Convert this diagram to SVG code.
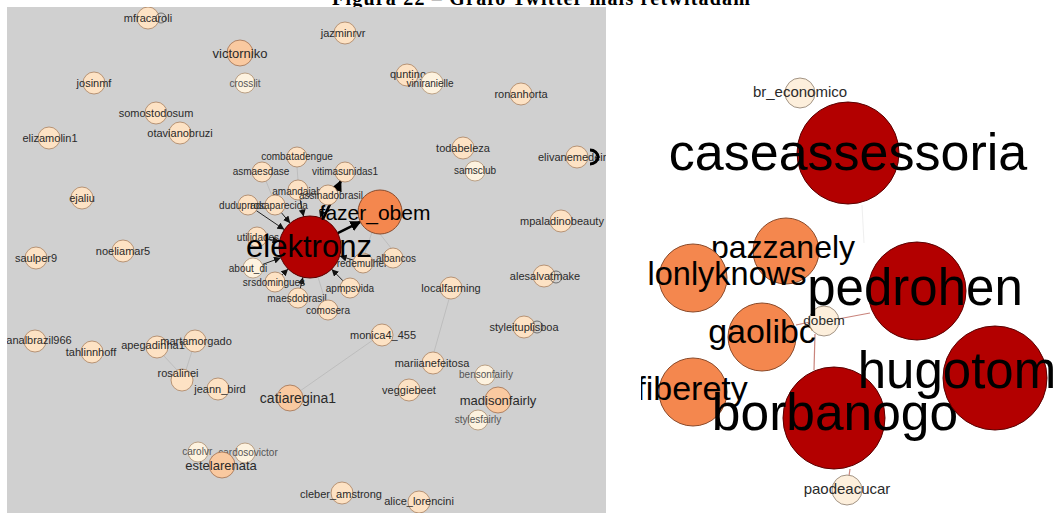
<svg xmlns="http://www.w3.org/2000/svg" width="1058" height="513" viewBox="0 0 1058 513">
<style>
.lbl{font-family:"Liberation Sans",Arial,sans-serif;fill:#2a2a2a;text-anchor:middle}
.s10{font-size:10px}
.s11{font-size:11px}
.s13{font-size:13px}
.g10{font-size:10px;fill:#555}
.n0{fill:#fdf2df;stroke:#b09070;stroke-width:0.8}
.n1{fill:#fde2c4;stroke:#a88060;stroke-width:0.8}
.n2{fill:#f9c9a0;stroke:#a07050;stroke-width:0.8}
.red{fill:#b30000;stroke:#5a0000;stroke-width:1}
.org{fill:#f4874e;stroke:#8a4a2a;stroke-width:1}
.rcr{fill:#fdefdc;stroke:#8a7a6a;stroke-width:0.8}
.loop{fill:none;stroke:#555;stroke-width:0.8}
.ar{stroke:#222;stroke-width:1;fill:none}
.ark{stroke:#000;stroke-width:2.6;fill:none}
.fe{stroke:#b4b4b4;stroke-width:0.7;fill:none}
.re{stroke:#c9847c;stroke-width:1.2;fill:none}
.big{font-family:"Liberation Sans",Arial,sans-serif;fill:#000;text-anchor:middle}
</style>
<defs>
<marker id="ah" viewBox="0 0 10 10" refX="10" refY="5" markerWidth="7" markerHeight="7" markerUnits="userSpaceOnUse" orient="auto"><path d="M0,0 L10,5 L0,10 z" fill="#111"/></marker>
<marker id="ahk" viewBox="0 0 10 10" refX="9" refY="5" markerWidth="11" markerHeight="11" markerUnits="userSpaceOnUse" orient="auto"><path d="M0,0 L10,5 L0,10 z" fill="#000"/></marker>
<clipPath id="clipL"><rect x="7" y="7" width="599" height="506"/></clipPath>
<clipPath id="clipR"><rect x="641" y="0" width="417" height="513"/></clipPath>
</defs>
<rect x="0" y="0" width="1058" height="513" fill="#ffffff"/>
<text x="332" y="5" font-family="Liberation Serif,Times New Roman,serif" font-weight="bold" font-size="20" textLength="418" fill="#000">Figura 22 – Grafo Twitter mais retwitadam</text>
<rect x="7" y="7" width="599" height="506" fill="#d0d0d0"/>

<g id="left-panel" clip-path="url(#clipL)">
<g id="connectors-left">
<line class="fe" x1="297" y1="167" x2="298" y2="180"/>
<line class="fe" x1="266" y1="181" x2="272" y2="196"/>
<line class="fe" x1="380" y1="234" x2="391" y2="248"/>
<line class="fe" x1="372" y1="232" x2="365" y2="253"/>
<line class="fe" x1="449" y1="299" x2="434" y2="352"/>
<line class="fe" x1="373" y1="340" x2="300" y2="391"/>
<line class="fe" x1="164" y1="356" x2="177" y2="370"/>
<line class="fe" x1="192" y1="351" x2="186" y2="370"/>
<line class="fe" x1="325" y1="300" x2="318" y2="277"/>
<line class="ar" x1="256.3" y1="210.6" x2="284.3" y2="229.6" marker-end="url(#ah)"/>
<line class="ar" x1="281.4" y1="212.7" x2="290.2" y2="223.2" marker-end="url(#ah)"/>
<line class="ar" x1="300.1" y1="199.8" x2="303.6" y2="216.6" marker-end="url(#ah)"/>
<line class="ar" x1="324.7" y1="204.5" x2="320.1" y2="217.7" marker-end="url(#ah)"/>
<line class="ar" x1="266.8" y1="238.9" x2="279.5" y2="241.2" marker-end="url(#ah)"/>
<line class="ar" x1="262.4" y1="264.5" x2="280.9" y2="257.7" marker-end="url(#ah)"/>
<line class="ar" x1="282.1" y1="274.9" x2="288.1" y2="268.9" marker-end="url(#ah)"/>
<line class="ar" x1="300.3" y1="288.3" x2="302.9" y2="277.2" marker-end="url(#ah)"/>
<line class="ar" x1="343.0" y1="280.8" x2="331.6" y2="269.2" marker-end="url(#ah)"/>
<line class="ar" x1="353.4" y1="260.1" x2="339.7" y2="256.0" marker-end="url(#ah)"/>
<line class="ark" x1="323.1" y1="218.9" x2="340.8" y2="181.1" marker-end="url(#ahk)"/>
<line class="ark" x1="337.7" y1="233.1" x2="360.3" y2="221.8" marker-end="url(#ahk)"/>
</g>

<g id="n-mfracaroli"><circle class="n1" cx="148" cy="18" r="11"/><circle class="loop" cx="161" cy="18" r="5"/><text class="lbl s11" x="148" y="22">mfracaroli</text></g>
<g id="n-victorniko"><circle class="n2" cx="240" cy="53" r="13"/><text class="lbl s13" x="240" y="58">victorniko</text></g>
<g id="n-crosslit"><circle class="n0" cx="245" cy="83" r="10"/><text class="lbl g10" x="245" y="87">crosslit</text></g>
<g id="n-josinmf"><circle class="n1" cx="94" cy="83" r="11"/><text class="lbl s11" x="94" y="87">josinmf</text></g>
<g id="n-jazminrvr"><circle class="n1" cx="345" cy="33" r="11"/><text class="lbl s11" x="343" y="37">jazminrvr</text></g>
<g id="n-quntino"><circle class="n1" cx="407" cy="75" r="11"/><text class="lbl s11" x="408" y="78">quntino</text></g>
<g id="n-viniranielle"><circle class="n0" cx="432" cy="83" r="11"/><text class="lbl s10" x="430" y="87">viniranielle</text></g>
<g id="n-ronanhorta"><circle class="n1" cx="521" cy="94" r="11"/><text class="lbl s11" x="521" y="98">ronanhorta</text></g>
<g id="n-somostodosum"><circle class="n1" cx="156" cy="113" r="11"/><text class="lbl s11" x="156" y="117">somostodosum</text></g>
<g id="n-otavianobruzi"><circle class="n1" cx="180" cy="133" r="11"/><text class="lbl s11" x="180" y="137">otavianobruzi</text></g>
<g id="n-elizamolin1"><circle class="n1" cx="49" cy="138" r="11"/><text class="lbl s11" x="50" y="142">elizamolin1</text></g>
<g id="n-todabeleza"><circle class="n1" cx="463" cy="148" r="11"/><text class="lbl s11" x="463" y="152">todabeleza</text></g>
<g id="n-elivanemedeiros"><circle class="n1" cx="577" cy="157" r="11"/><text class="lbl s11" x="578" y="161">elivanemedeiros</text><path d="M590,150 A8,7 0 0 1 590,164" fill="none" stroke="#000" stroke-width="3"/></g>
<g id="n-samsclub"><circle class="n0" cx="475" cy="171" r="10"/><text class="lbl s10" x="475" y="174">samsclub</text></g>
<g id="n-combatadengue"><circle class="n1" cx="297" cy="157" r="10"/><text class="lbl s10" x="297" y="160">combatadengue</text></g>
<g id="n-asmaesdase"><circle class="n1" cx="262" cy="172" r="10"/><text class="lbl s10" x="261" y="175">asmaesdase</text></g>
<g id="n-vitimasunidas1"><circle class="n1" cx="345" cy="172" r="10"/><text class="lbl s10" x="345" y="175">vitimasunidas1</text></g>
<g id="n-amandajab"><circle class="n1" cx="298" cy="190" r="10"/><text class="lbl s10" x="297" y="195">amandajab</text></g>
<g id="n-assinadobrasil"><circle class="n1" cx="328" cy="195" r="10"/><text class="lbl s10" x="331" y="199">assinadobrasil</text></g>
<g id="n-duduprado"><circle class="n1" cx="248" cy="205" r="10"/><text class="lbl s10" x="243" y="209">duduprado</text></g>
<g id="n-rosaparecida"><circle class="n1" cx="275" cy="205" r="10"/><text class="lbl s10" x="279" y="209">rosaparecida</text></g>
<g id="n-utilidades"><circle class="n1" cx="257" cy="237" r="10"/><text class="lbl s10" x="258" y="241">utilidades</text></g>
<g id="n-about_di"><circle class="n0" cx="253" cy="268" r="10"/><text class="lbl s10" x="248" y="272">about_di</text></g>
<g id="n-srsdomingues"><circle class="n1" cx="275" cy="282" r="10"/><text class="lbl s10" x="274" y="286">srsdomingues</text></g>
<g id="n-maesdobrasil"><circle class="n1" cx="298" cy="298" r="10"/><text class="lbl s10" x="297" y="302">maesdobrasil</text></g>
<g id="n-comosera"><circle class="n1" cx="328" cy="310" r="10"/><text class="lbl s10" x="328" y="314">comosera</text></g>
<g id="n-apmpsvida"><circle class="n1" cx="350" cy="288" r="10"/><text class="lbl s10" x="350" y="292">apmpsvida</text></g>
<g id="n-redemulher"><circle class="n1" cx="363" cy="263" r="10"/><text class="lbl s10" x="362" y="267">redemulher</text></g>
<g id="n-albancos"><circle class="n1" cx="393" cy="258" r="10"/><text class="lbl s10" x="396" y="262">albancos</text></g>
<g id="n-ejaliu"><circle class="n1" cx="82" cy="198" r="11"/><text class="lbl s11" x="82" y="202">ejaliu</text></g>
<g id="n-noeliamar5"><circle class="n1" cx="123" cy="251" r="11"/><text class="lbl s11" x="123" y="255">noeliamar5</text></g>
<g id="n-saulper9"><circle class="n1" cx="36" cy="258" r="11"/><text class="lbl s11" x="36" y="262">saulper9</text></g>
<g id="n-mpaladinobeauty"><circle class="n1" cx="561" cy="221" r="11"/><text class="lbl s11" x="562" y="225">mpaladinobeauty</text></g>
<g id="n-alesalvatmake"><circle class="n1" cx="544" cy="276" r="11"/><circle class="loop" cx="556" cy="277" r="6"/><text class="lbl s11" x="545" y="280">alesalvatmake</text></g>
<g id="n-localfarming"><circle class="n1" cx="451" cy="288" r="11"/><text class="lbl s11" x="451" y="292">localfarming</text></g>
<g id="n-styleituplisboa"><circle class="n1" cx="524" cy="327" r="11"/><circle class="loop" cx="537" cy="327" r="6"/><text class="lbl s11" x="524" y="331">styleituplisboa</text></g>
<g id="n-analbrazil966"><circle class="n1" cx="35" cy="341" r="11"/><text class="lbl s11" x="39" y="344">analbrazil966</text></g>
<g id="n-tahlinnhoff"><circle class="n1" cx="92" cy="352" r="11"/><text class="lbl s11" x="91" y="356">tahlinnhoff</text></g>
<g id="n-apegadinha14"><circle class="n1" cx="157" cy="347" r="11"/><text class="lbl s11" x="156" y="349">apegadinha14</text></g>
<g id="n-martamorgado"><circle class="n1" cx="195" cy="341" r="11"/><text class="lbl s11" x="196" y="345">martamorgado</text></g>
<g id="n-rosalinei"><circle class="n1" cx="182" cy="380" r="11"/><text class="lbl s11" x="178" y="377">rosalinei</text></g>
<g id="n-jeann_bird"><circle class="n1" cx="218" cy="389" r="11"/><text class="lbl s11" x="220" y="393">jeann_bird</text></g>
<g id="n-catiaregina1"><circle class="n2" cx="290" cy="398" r="13"/><text class="lbl" font-size="14" x="298" y="403">catiaregina1</text></g>
<g id="n-monica4_455"><circle class="n1" cx="382" cy="335" r="11"/><text class="lbl s11" x="383" y="339">monica4_455</text></g>
<g id="n-mariianefeitosa"><circle class="n1" cx="433" cy="363" r="11"/><text class="lbl s11" x="432" y="367">mariianefeitosa</text></g>
<g id="n-veggiebeet"><circle class="n1" cx="409" cy="390" r="11"/><text class="lbl s11" x="409" y="394">veggiebeet</text></g>
<g id="n-bensonfairly"><circle class="n0" cx="485" cy="375" r="10"/><text class="lbl g10" x="486" y="378">bensonfairly</text></g>
<g id="n-madisonfairly"><circle class="n2" cx="498" cy="400" r="13"/><text class="lbl s13" x="498" y="405">madisonfairly</text></g>
<g id="n-stylesfairly"><circle class="n0" cx="478" cy="420" r="10"/><text class="lbl g10" x="478" y="423">stylesfairly</text></g>
<g id="n-carolvr_"><circle class="n0" cx="198" cy="452" r="10"/><text class="lbl g10" x="200" y="455">carolvr_</text></g>
<g id="n-cardosovictor"><circle class="n0" cx="245" cy="453" r="10"/><text class="lbl g10" x="248" y="456">cardosovictor</text></g>
<g id="n-estelarenata"><circle class="n2" cx="222" cy="465" r="13"/><text class="lbl s13" x="221" y="470">estelarenata</text></g>
<g id="n-cleber_amstrong"><circle class="n1" cx="342" cy="493" r="11"/><text class="lbl s11" x="341" y="498">cleber_amstrong</text></g>
<g id="n-alice_lorencini"><circle class="n1" cx="419" cy="502" r="11"/><text class="lbl s11" x="419" y="505">alice_lorencini</text></g>
<g id="n-elektronz"><circle class="red" cx="310" cy="247" r="31"/><text class="big" font-size="31" x="309" y="257">elektronz</text></g>
<g id="n-fazer_obem"><circle class="org" cx="380" cy="212" r="22"/><text class="big" font-size="21" x="375" y="220">fazer_obem</text></g>
</g>

<g id="right-panel" clip-path="url(#clipR)">
<g id="connectors-right">
<line x1="862" y1="205" x2="864" y2="243" stroke="#efefef" stroke-width="1"/>
<line class="re" x1="838" y1="319" x2="870" y2="313"/>
<line class="re" x1="810" y1="322" x2="796" y2="325"/>
<line class="re" x1="815" y1="334" x2="814" y2="370"/>
<line class="re" x1="850" y1="469" x2="849" y2="476"/>
</g>
<g id="n-br_economico"><circle class="rcr" cx="800" cy="93" r="15"/><text class="lbl" font-size="15" x="800" y="97">br_economico</text></g>
<g id="n-caseassessoria"><circle class="red" cx="848" cy="153" r="51"/><text class="big" font-size="52" x="848" y="170">caseassessoria</text></g>
<g id="n-pazzanely"><circle class="org" cx="786" cy="251" r="33"/><text class="big" font-size="32" x="783" y="258">pazzanely</text></g>
<g id="n-lonlyknows"><circle class="org" cx="693" cy="278" r="34"/><text class="big" font-size="32.5" x="727" y="285">lonlyknows</text></g>
<g id="n-gaolibc"><circle class="org" cx="762" cy="337" r="34"/><text class="big" font-size="34" x="762" y="343">gaolibc</text></g>
<g id="n-dobem"><circle class="rcr" cx="824" cy="321" r="15"/><text class="lbl" font-size="13.5" x="824" y="325">dobem</text></g>
<g id="n-fiberety"><circle class="org" cx="693" cy="392" r="34"/><text class="big" font-size="34" x="692" y="400">fiberety</text></g>
<g id="n-pedrohen"><circle class="red" cx="917" cy="291" r="49"/><text class="big" font-size="51" x="915" y="305">pedrohen</text></g>
<g id="n-borbanogo"><circle class="red" cx="834" cy="418" r="51"/><text class="big" font-size="51.5" x="835" y="430">borbanogo</text></g>
<g id="n-hugotom"><circle class="red" cx="995" cy="378" r="52"/><text class="big" font-size="51" x="957" y="388">hugotom</text></g>
<g id="n-paodeacucar"><circle class="rcr" cx="847" cy="490" r="15"/><text class="lbl" font-size="15" x="847" y="494">paodeacucar</text></g>
</g>
</svg>
